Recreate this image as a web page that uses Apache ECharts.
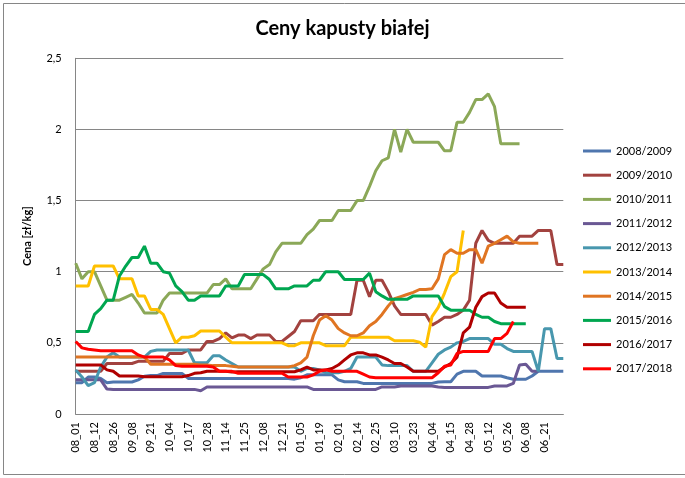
<!DOCTYPE html>
<html>
<head>
<meta charset="utf-8">
<script src="https://cdn.jsdelivr.net/npm/echarts@6/dist/echarts.min.js"></script>
<style>
html,body{margin:0;padding:0;background:#fff;}
#chart{width:685px;height:478px;}
</style>
</head>
<body>
<div id="chart"></div>
<script>
const categories = ["08_01","08_05","08_08","08_12","08_19","08_22","08_26","08_30","09_04","09_08","09_12","09_16","09_21","09_25","09_29","10_04","10_08","10_13","10_17","10_21","10_24","10_28","11_04","11_08","11_14","11_18","11_22","11_25","11_29","12_04","12_08","12_12","12_16","12_21","12_27","12_30","01_05","01_09","01_14","01_19","01_23","01_27","02_01","02_06","02_10","02_14","02_18","02_21","02_25","03_01","03_06","03_10","03_14","03_18","03_23","03_27","03_31","04_04","04_08","04_11","04_15","04_19","04_24","04_28","05_02","05_07","05_12","05_16","05_21","05_26","05_30","06_03","06_08","06_12","06_17","06_21","06_25","06_28","07_02"];

const seriesNames = ["2008/2009","2009/2010","2010/2011","2011/2012","2012/2013","2013/2014","2014/2015","2015/2016","2016/2017","2017/2018"];

const s2008 = [0.22,0.22,0.26,0.26,0.25,0.22,0.225,0.225,0.225,0.225,0.24,0.265,0.27,0.27,0.285,0.285,0.285,0.285,0.25,0.25,0.25,0.25,0.25,0.25,0.25,0.25,0.25,0.25,0.25,0.25,0.25,0.25,0.25,0.25,0.25,0.245,0.255,0.275,0.275,0.275,0.275,0.275,0.24,0.227,0.227,0.227,0.215,0.215,0.215,0.215,0.215,0.215,0.215,0.215,0.215,0.215,0.215,0.215,0.225,0.227,0.227,0.28,0.30,0.30,0.30,0.267,0.267,0.267,0.267,0.255,0.244,0.244,0.244,0.267,0.30,0.30,0.30,0.30,0.30];

const s2009 = [0.30,0.30,0.30,0.30,0.30,0.355,0.355,0.355,0.355,0.355,0.37,0.37,0.37,0.37,0.37,0.425,0.425,0.425,0.45,0.45,0.45,0.51,0.51,0.53,0.57,0.535,0.555,0.555,0.53,0.555,0.555,0.555,0.51,0.51,0.545,0.58,0.655,0.655,0.655,0.70,0.70,0.70,0.70,0.70,0.70,0.94,0.94,0.825,0.94,0.94,0.86,0.76,0.70,0.70,0.70,0.70,0.70,0.625,0.65,0.68,0.68,0.70,0.73,0.80,1.20,1.29,1.22,1.20,1.20,1.20,1.20,1.25,1.25,1.25,1.29,1.29,1.29,1.05,1.05];

const s2010 = [1.06,0.95,1.0,1.0,0.9,0.8,0.8,0.8,0.82,0.84,0.78,0.71,0.71,0.71,0.80,0.85,0.85,0.85,0.85,0.85,0.85,0.85,0.91,0.91,0.95,0.88,0.88,0.88,0.88,0.95,1.02,1.05,1.14,1.2,1.2,1.2,1.2,1.26,1.3,1.36,1.36,1.36,1.43,1.43,1.43,1.5,1.5,1.6,1.71,1.78,1.8,2.0,1.84,2.0,1.91,1.91,1.91,1.91,1.91,1.85,1.85,2.05,2.05,2.12,2.21,2.21,2.25,2.16,1.9,1.9,1.9,1.9,null,null,null,null,null,null,null];

const s2011 = [0.24,0.24,0.24,0.24,0.24,0.175,0.173,0.173,0.173,0.173,0.173,0.173,0.173,0.173,0.173,0.173,0.173,0.173,0.173,0.173,0.164,0.19,0.19,0.19,0.19,0.19,0.19,0.19,0.19,0.19,0.19,0.19,0.19,0.19,0.19,0.19,0.19,0.19,0.173,0.173,0.173,0.173,0.173,0.173,0.173,0.173,0.173,0.173,0.173,0.19,0.19,0.19,0.197,0.197,0.197,0.197,0.197,0.197,0.19,0.187,0.187,0.187,0.187,0.187,0.187,0.187,0.187,0.197,0.197,0.197,0.215,0.345,0.35,0.30,0.30,null,null,null,null];

const s2012 = [0.31,0.26,0.20,0.22,0.33,0.40,0.43,0.40,0.40,0.40,0.40,0.40,0.44,0.45,0.45,0.45,0.45,0.45,0.45,0.36,0.36,0.36,0.41,0.41,0.38,0.355,0.33,0.33,0.33,0.33,0.33,0.33,0.33,0.33,0.33,0.33,0.30,0.32,0.32,0.31,0.29,0.29,0.29,0.30,0.32,0.40,0.40,0.40,0.40,0.345,0.34,0.34,0.34,0.34,0.30,0.30,0.30,0.36,0.42,0.45,0.47,0.50,0.51,0.53,0.53,0.53,0.53,0.49,0.49,0.46,0.44,0.44,0.44,0.44,0.30,0.60,0.60,0.39,0.39];

const s2013 = [0.90,0.90,0.90,1.04,1.04,1.04,1.04,0.95,0.95,0.95,0.83,0.83,0.735,0.735,0.70,0.60,0.50,0.54,0.54,0.55,0.583,0.583,0.583,0.583,0.54,0.50,0.50,0.50,0.50,0.50,0.50,0.50,0.50,0.50,0.48,0.48,0.50,0.50,0.50,0.50,0.48,0.48,0.48,0.48,0.54,0.54,0.54,0.54,0.54,0.54,0.54,0.515,0.515,0.515,0.515,0.505,0.47,0.685,0.75,0.85,0.965,1.0,1.29,null,null,null,null,null,null,null,null,null,null,null,null,null,null,null,null];

const s2014 = [0.40,0.40,0.40,0.40,0.40,0.40,0.40,0.40,0.40,0.40,0.40,0.40,0.35,0.35,0.35,0.35,0.35,0.35,0.35,0.35,0.345,0.345,0.34,0.34,0.34,0.335,0.33,0.33,0.33,0.33,0.33,0.33,0.33,0.33,0.33,0.34,0.36,0.40,0.55,0.66,0.69,0.66,0.60,0.57,0.55,0.55,0.57,0.62,0.65,0.70,0.76,0.81,0.825,0.84,0.855,0.875,0.875,0.88,0.95,1.12,1.155,1.13,1.13,1.155,1.155,1.06,1.18,1.2,1.225,1.25,1.21,1.20,1.20,1.20,1.20,null,null,null,null];

const s2015 = [0.58,0.58,0.58,0.70,0.74,0.80,0.80,0.97,1.04,1.10,1.10,1.18,1.06,1.06,1.0,0.99,0.90,0.86,0.80,0.80,0.83,0.83,0.83,0.83,0.90,0.90,0.90,0.98,0.98,0.98,0.98,0.945,0.88,0.88,0.88,0.90,0.90,0.90,0.94,0.94,1.0,1.0,1.0,0.945,0.945,0.945,0.945,0.99,0.86,0.83,0.806,0.806,0.806,0.806,0.83,0.83,0.83,0.83,0.83,0.755,0.73,0.73,0.73,0.73,0.70,0.68,0.68,0.65,0.635,0.635,0.635,0.635,0.635,null,null,null,null,null,null];

const s2016 = [0.345,0.345,0.345,0.345,0.345,0.31,0.30,0.267,0.267,0.267,0.267,0.262,0.262,0.262,0.262,0.262,0.262,0.262,0.27,0.286,0.29,0.30,0.30,0.30,0.30,0.295,0.297,0.297,0.297,0.297,0.297,0.297,0.297,0.297,0.297,0.297,0.31,0.33,0.31,0.31,0.31,0.32,0.344,0.38,0.415,0.43,0.43,0.415,0.415,0.40,0.38,0.355,0.355,0.33,0.30,0.30,0.30,0.30,0.30,0.33,0.355,0.40,0.57,0.61,0.75,0.825,0.85,0.85,0.78,0.75,0.75,0.75,0.75,null,null,null,null,null,null];

const s2017 = [0.51,0.465,0.455,0.45,0.445,0.445,0.445,0.445,0.445,0.445,0.415,0.40,0.40,0.40,0.40,0.38,0.34,0.335,0.335,0.335,0.335,0.335,0.33,0.30,0.30,0.30,0.286,0.286,0.286,0.286,0.286,0.286,0.286,0.286,0.26,0.26,0.26,0.26,0.275,0.30,0.31,0.30,0.30,0.30,0.30,0.30,0.28,0.26,0.255,0.255,0.255,0.255,0.255,0.255,0.255,0.255,0.255,0.255,0.29,0.335,0.345,0.425,0.44,0.44,0.44,0.44,0.44,0.53,0.53,0.567,0.65,null,null,null,null,null,null,null,null];

const seriesData = [s2008,s2009,s2010,s2011,s2012,s2013,s2014,s2015,s2016,s2017];
const colors = ["#4F76AE","#A2423F","#8BA858","#6A5894","#4897AE","#FFC000","#E07522","#00A650","#B00000","#FF0000"];
const yTicks = [0,0.5,1,1.5,2,2.5];

const FONT = "Lato, 'Open Sans', 'Liberation Sans', sans-serif";
const chart = echarts.init(document.getElementById('chart'), null, {renderer:'canvas'});
const lastIdx = categories.length - 1;

chart.setOption({
  animation:false,
  backgroundColor:'#fff',
  color: colors,
  title:{
    text:'Ceny kapusty białej',
    left:'center', top:14,
    textStyle:{fontFamily:FONT,fontSize:20,fontWeight:'bold',color:'#000'}
  },
  graphic:[{
    type:'rect', shape:{x:3.5,y:3.5,width:690,height:471},
    style:{fill:'none',stroke:'#868686',lineWidth:1}, silent:true, z:-10
  }],
  legend:{
    orient:'vertical', left:578, top:139,
    icon:'rect', itemWidth:28, itemHeight:3, itemGap:10.2,
    textStyle:{fontFamily:FONT,fontSize:11,color:'#000',lineHeight:14},
    data: seriesNames
  },
  grid:{left:75.7, right:121.7, top:58.3, bottom:64, containLabel:false},
  xAxis:{
    type:'category', data:categories, boundaryGap:false,
    axisLine:{lineStyle:{color:'#868686',width:1}},
    axisTick:{show:false},
    axisLabel:{
      rotate:90, fontFamily:FONT, fontSize:11, color:'#000', margin:8,
      interval:function(i){ return i % 3 === 0 && i < lastIdx; }
    },
    splitLine:{show:false}
  },
  yAxis:{
    type:'value', min:yTicks[0], max:yTicks[yTicks.length-1], interval:0.5,
    name:'Cena [zł/kg]', nameLocation:'middle', nameGap:43, nameRotate:90,
    nameTextStyle:{fontFamily:FONT,fontSize:11,fontWeight:'bold',color:'#000'},
    axisLine:{show:true,lineStyle:{color:'#868686',width:1}},
    axisTick:{show:false},
    axisLabel:{fontFamily:FONT,fontSize:11,color:'#000',margin:14,
      formatter:function(v){ return String(v).replace('.',','); }},
    splitLine:{show:true,lineStyle:{color:'#868686',width:1}}
  },
  series: seriesNames.map(function(n,k){
    return {
      name:n, type:'line', data:seriesData[k], symbol:'none', smooth:false,
      connectNulls:false,
      lineStyle:{width:3,color:colors[k]},
      itemStyle:{color:colors[k]}
    };
  })
});
</script>
</body>
</html>
